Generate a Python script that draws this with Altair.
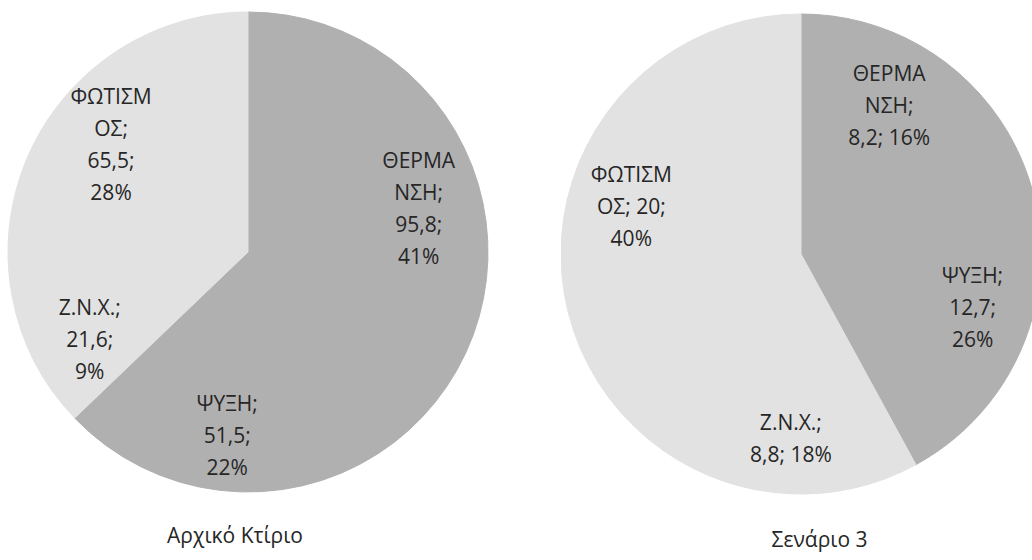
import altair as alt
import pandas as pd

# ---- data ----
categories = ["ΘΕΡΜΑΝΣΗ", "ΨΥΞΗ", "Ζ.Ν.Χ.", "ΦΩΤΙΣΜΟΣ"]
values_initial = [95.8, 51.5, 21.6, 65.5]
values_scenario = [8.2, 12.7, 8.8, 20.0]
labels_initial = [
    "ΘΕΡΜΑ\nΝΣΗ;\n95,8;\n41%",
    "ΨΥΞΗ;\n51,5;\n22%",
    "Ζ.Ν.Χ.;\n21,6;\n9%",
    "ΦΩΤΙΣΜ\nΟΣ;\n65,5;\n28%",
]
labels_scenario = [
    "ΘΕΡΜΑ\nΝΣΗ;\n8,2; 16%",
    "ΨΥΞΗ;\n12,7;\n26%",
    "Ζ.Ν.Χ.;\n8,8; 18%",
    "ΦΩΤΙΣΜ\nΟΣ; 20;\n40%",
]
titles = ["Αρχικό Κτίριο", "Σενάριο 3"]

colors = ["#b0b0b0", "#b0b0b0", "#e2e2e2", "#e2e2e2"]
FONT = "Open Sans"
TEXT_COLOR = "#262626"
FS = 21
LH = 32
R = 240
R_LABEL = 178


def pie(values, labels, title, width, height, cx, cy, dx, toff):
    df = pd.DataFrame({
        "cat": categories,
        "val": values,
        "lab": labels,
        "ord": list(range(len(categories))),
    })
    df["n"] = df["lab"].str.count("\n")
    cscale = alt.Scale(domain=categories, range=colors)
    arcs = alt.Chart(df).mark_arc(radius=R, clip=True, strokeWidth=1).encode(
        theta=alt.Theta("val:Q", stack=True),
        order=alt.Order("ord:Q"),
        color=alt.Color("cat:N", scale=cscale, legend=None),
        stroke=alt.Stroke("cat:N", scale=cscale, legend=None),
        x=alt.value(cx),
        y=alt.value(cy),
    )
    layers = [arcs]
    for n in sorted(df["n"].unique()):
        t = (
            alt.Chart(df)
            .transform_window(cum="sum(val)", sort=[alt.SortField("ord")],
                              frame=[None, 0])
            .transform_calculate(mid="datum.cum - datum.val / 2")
            .transform_filter(alt.datum.n == int(n))
            .mark_text(radius=R_LABEL, dy=-int(n) * LH / 2 + 8, lineBreak="\n",
                       lineHeight=LH, fontSize=FS, font=FONT,
                       color=TEXT_COLOR, align="center", baseline="middle")
            .encode(
                theta=alt.Theta("mid:Q", stack=None),
                text="lab:N",
                x=alt.value(cx),
                y=alt.value(cy),
            )
        )
        layers.append(t)
    return alt.layer(*layers).properties(
        width=width, height=height,
        title=alt.TitleParams(text=title, orient="bottom", offset=toff, dx=dx,
                              fontSize=FS, font=FONT, fontWeight="normal",
                              color=TEXT_COLOR),
    )


left = pie(values_initial, labels_initial, titles[0], 496, 496, 248, 252, -13, 30)
right = pie(values_scenario, labels_scenario, titles[1], 471, 496, 240, 254, 23, 34)

chart = alt.hconcat(left, right, spacing=65).properties(
    padding={"left": 0, "top": 0, "right": 0, "bottom": 6},
    background="white",
).configure_view(strokeOpacity=0)

chart.save("out.html", embed_options={"renderer": "svg", "actions": False})
